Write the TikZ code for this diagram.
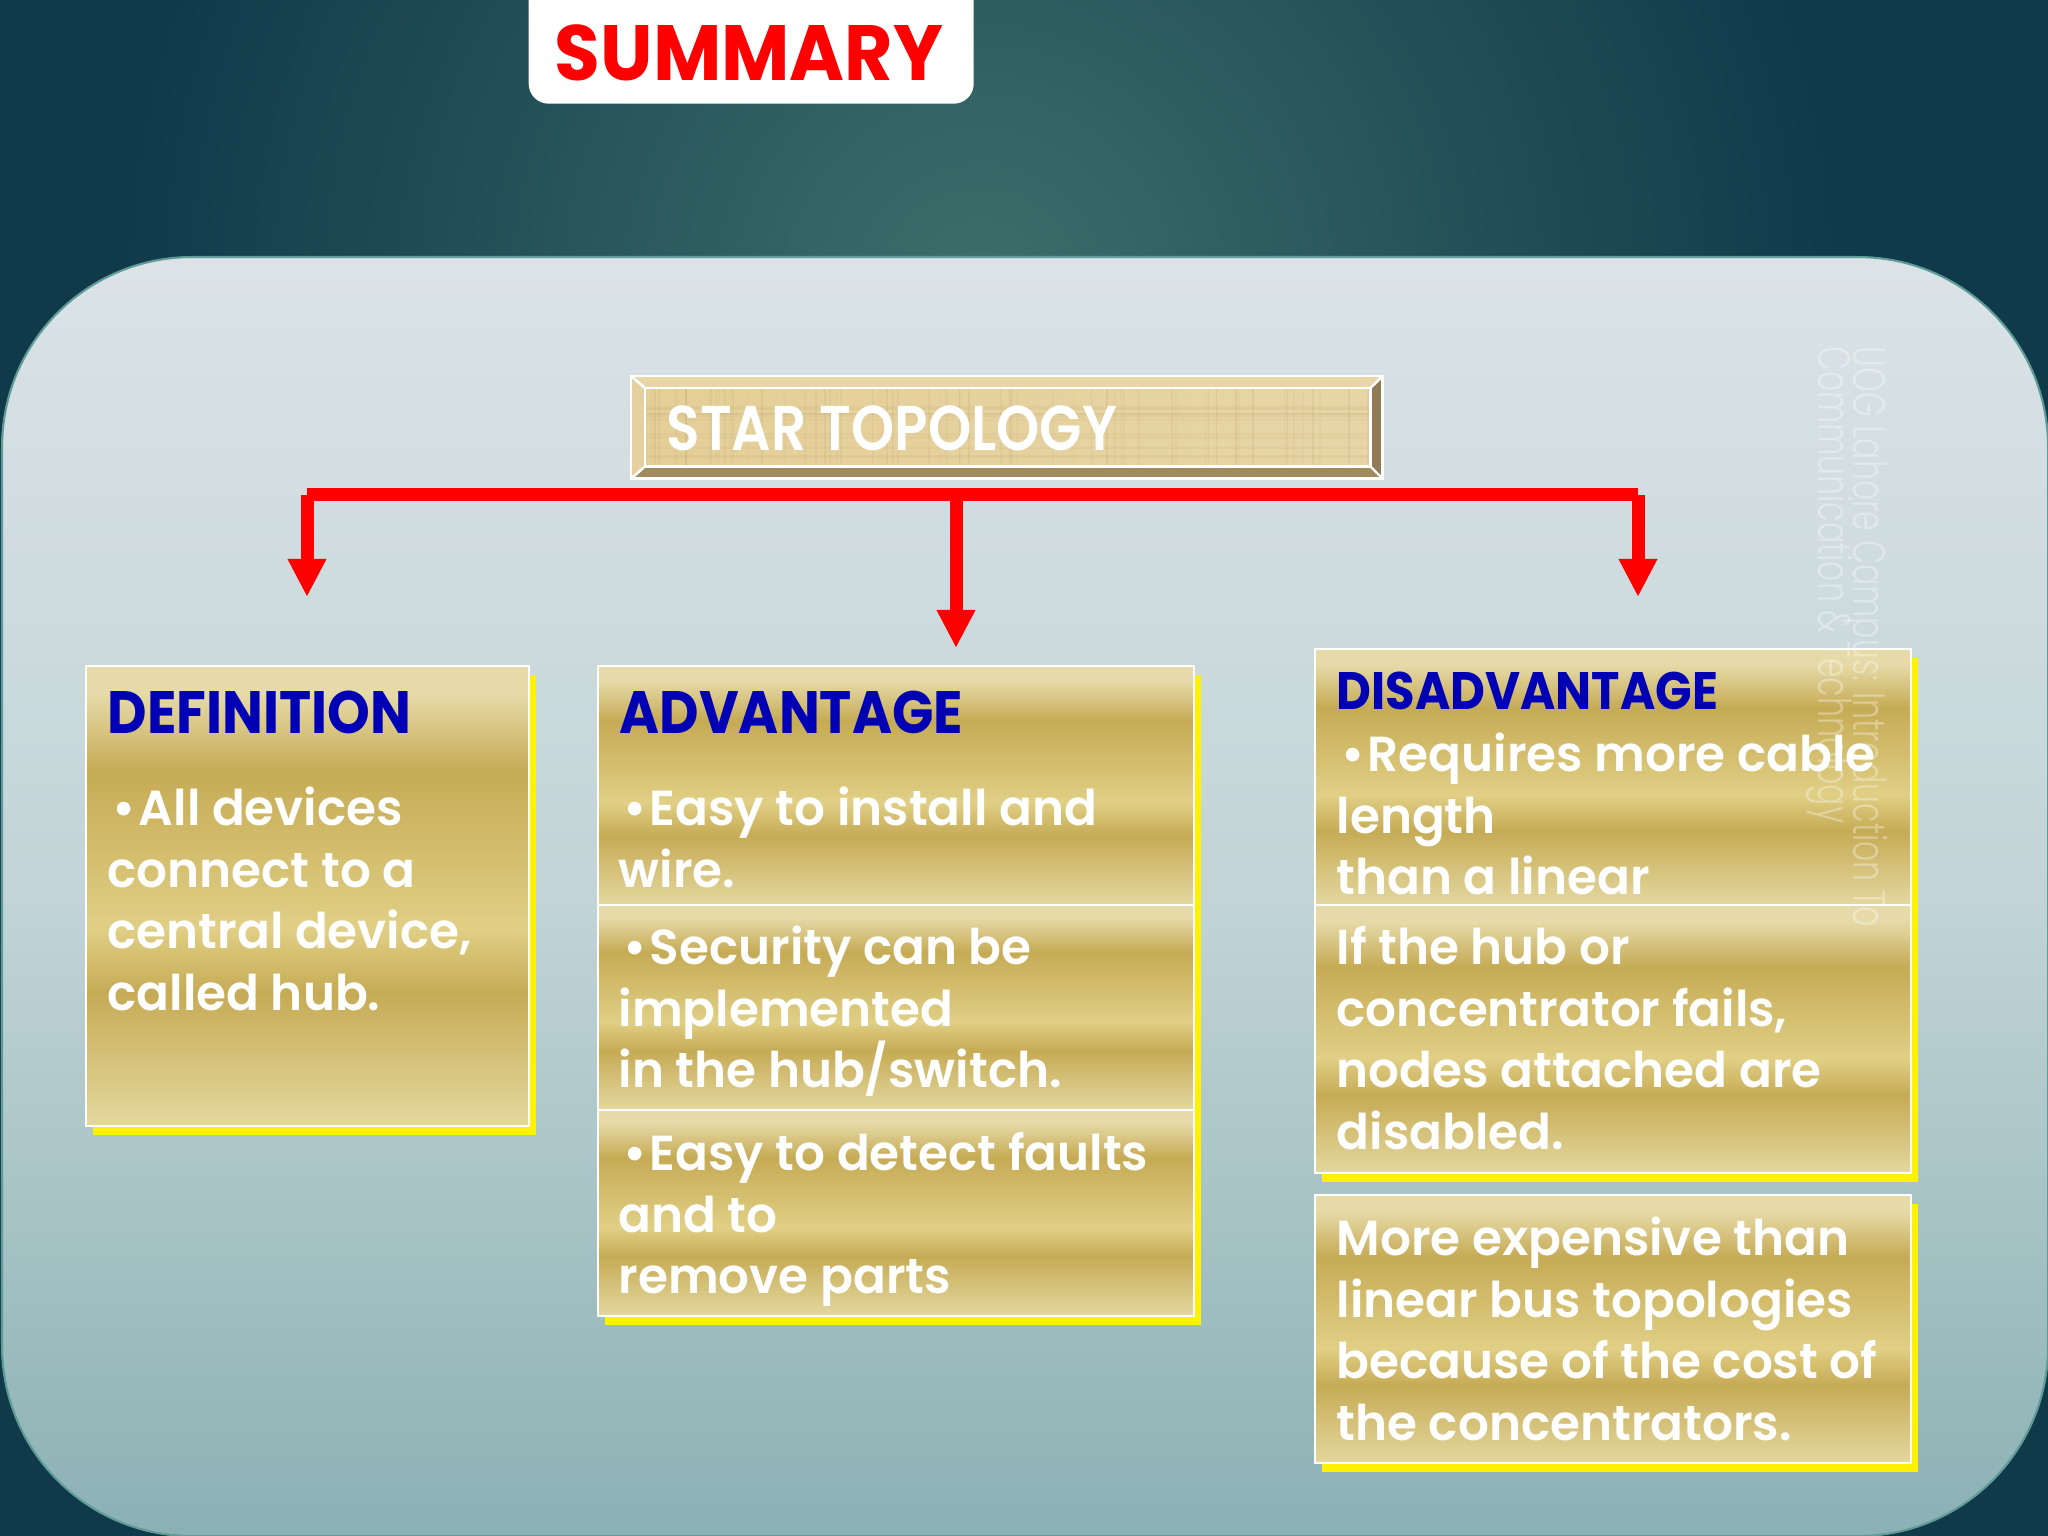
\documentclass[tikz,border=0pt]{standalone}
\usepackage{fontspec}
\usetikzlibrary{arrows.meta,shadows}
\setmainfont{Poppins}[BoldFont=Poppins SemiBold,FakeStretch=0.985]
\newfontfamily\titlefont{Poppins}[FakeStretch=0.95]
\newfontfamily\headfont{Poppins}[FakeStretch=0.91]
\newfontfamily\starfont{Poppins}[BoldFont=Poppins SemiBold,FakeStretch=0.87]
\newfontfamily\markfont{Poppins Light}[FakeStretch=0.69]
\newcommand{\bul}{\kern0.05cm•\kern0.03cm}
\definecolor{deepteal}{HTML}{10394A}
\definecolor{glowteal}{HTML}{3D6F6B}
\definecolor{goldpale}{HTML}{E6DAA8}
\definecolor{goldlow}{HTML}{E4D89F}
\definecolor{golddark}{HTML}{C6AB55}
\definecolor{goldmid}{HTML}{E0CF85}
\definecolor{headblue}{HTML}{0000B4}
\definecolor{panelTop}{HTML}{DBE3E7}
\definecolor{panelMid}{HTML}{C2D4D7}
\definecolor{panelBot}{HTML}{8BB1B4}
\definecolor{panelRim}{HTML}{5F9C98}
\definecolor{bevtop}{HTML}{E8D6A6}
\definecolor{bevleft}{HTML}{E6D0A0}
\definecolor{bevbot}{HTML}{A08B5E}
\definecolor{bevright}{HTML}{8F7B55}
\definecolor{woodleft}{HTML}{E5CF98}
\definecolor{woodright}{HTML}{E7D5A6}
\definecolor{woodgrain}{HTML}{B39A62}
\pgfdeclareverticalshading{goldband}{100bp}{color(0bp)=(goldlow); color(25bp)=(goldlow); color(39.5bp)=(golddark); color(46.5bp)=(goldmid); color(63.5bp)=(golddark); color(72bp)=(goldpale); color(100bp)=(goldpale)}
\tikzset{
  panelbox/.style={draw=panelRim, line width=0.6pt, rounded corners=1.9cm, top color=panelTop, bottom color=panelBot, middle color=panelMid, minimum width=20.46cm, minimum height=12.79cm, anchor=north west},
  goldbox/.style={draw=white, line width=0.6pt, shading=goldband, anchor=north west, inner sep=0pt, general shadow={fill=yellow, shadow xshift=0.07cm, shadow yshift=-0.09cm}},
  bodytext/.style={anchor=north west, inner sep=0pt, align=left, text=white, font=\fontsize{14}{17.5}\selectfont\bfseries},
  headtext/.style={anchor=north west, inner sep=0pt, text=headblue, font=\headfont\fontsize{17}{21}\selectfont\bfseries},
  redline/.style={draw=red, line width=0.13cm},
  redarrow/.style={redline, -{Triangle[width=0.36cm,length=0.38cm]}},
  marktext/.style={rotate=-90, anchor=north west, inner sep=0pt, text=white, opacity=0.34, font=\markfont\fontsize{13}{13}\selectfont},
}
\begin{document}
\begin{tikzpicture}[y=-1cm]
\useasboundingbox (0,0) rectangle (20.48,15.36);
% backdrop
\fill[deepteal] (0,0) rectangle (20.48,15.36);
\begin{scope}
\clip (0,0) rectangle (20.48,15.36);
\shade[inner color=glowteal, outer color=deepteal] (9.8,2.9) circle (8.6);
\end{scope}
\node[panelbox] (panel) at (0.01,2.56) {};
% title
\node[fill=white, rounded corners=0.2cm, minimum width=4.45cm, minimum height=1.3cm, anchor=north west, inner sep=0pt] (titlebox) at (5.28,-0.27) {};
\node[text=red, inner sep=0pt, anchor=base, font=\titlefont\fontsize{22.3}{27}\selectfont\bfseries] (title) at (7.49,0.81) {SUMMARY};
% star topology plate
\node[fill=goldpale, draw=white, line width=0.8pt, minimum width=7.49cm, minimum height=1.00cm, inner sep=0pt, anchor=north west] (star) at (6.31,3.76) {};
\node[fill=none, minimum width=7.24cm, minimum height=0.77cm, inner sep=0pt, anchor=north west] (starface) at (6.45,3.88) {};
\fill[bevtop] (star.north west) -- (star.north east) -- (starface.north east) -- (starface.north west) -- cycle;
\fill[bevleft] (star.north west) -- (star.south west) -- (starface.south west) -- (starface.north west) -- cycle;
\fill[bevbot] (star.south west) -- (star.south east) -- (starface.south east) -- (starface.south west) -- cycle;
\fill[bevright] (star.north east) -- (star.south east) -- (starface.south east) -- (starface.north east) -- cycle;
\shade[left color=woodleft, right color=woodright] (starface.north west) rectangle (starface.south east);
% grain of the plate
\begin{scope}
\clip (starface.north west) rectangle (starface.south east);
\pgfmathsetseed{7}
\foreach \k in {1,...,70}{
  \pgfmathsetmacro{\gx}{6.31+7.49*rnd}
  \pgfmathsetmacro{\gop}{0.04+0.14*rnd}
  \draw[woodgrain, opacity=\gop, line width=0.5pt] (\gx,3.76) -- (\gx,4.77);
}
\foreach \k in {1,...,14}{
  \pgfmathsetmacro{\gy}{3.76+1.01*rnd}
  \pgfmathsetmacro{\gop}{0.04+0.10*rnd}
  \draw[woodgrain, opacity=\gop, line width=0.6pt] (6.31,\gy) -- (13.80,\gy);
}
\end{scope}
\draw[white, line width=0.8pt] (starface.north west) rectangle (starface.south east);
\draw[white, line width=0.7pt] (star.north west) -- (starface.north west) (star.north east) -- (starface.north east) (star.south west) -- (starface.south west) (star.south east) -- (starface.south east);
\draw[white, line width=0.8pt] (star.north west) rectangle (star.south east);
\node[anchor=west, inner sep=0pt, text=white, font=\starfont\fontsize{18}{22}\selectfont\bfseries] (startext) at (6.66,4.28) {STAR TOPOLOGY};
% red connectors
\coordinate (barleft) at (3.07,4.95);
\coordinate (barmid) at (9.56,4.95);
\coordinate (barright) at (16.38,4.95);
\coordinate (tipdef) at (3.07,5.97);
\coordinate (tipadv) at (9.56,6.48);
\coordinate (tipdis) at (16.38,5.97);
\draw[redline] (barleft) -- (barright);
\draw[redarrow] (barleft) -- (tipdef);
\draw[redarrow] (barmid) -- (tipadv);
\draw[redarrow] (barright) -- (tipdis);
% definition column
\node[goldbox, minimum width=4.43cm, minimum height=4.60cm] (defbox) at (0.85,6.65) {};
\node[headtext] (defhead) at (1.07,6.81) {\strut DEFINITION};
\node[bodytext] (defbody) at (1.07,7.82) {\strut\bul All devices\\connect to a\\central device,\\called hub.};
% advantage column
\node[goldbox, minimum width=5.96cm, minimum height=2.39cm] (advone) at (5.97,6.65) {};
\node[goldbox, minimum width=5.96cm, minimum height=2.05cm] (advtwo) at (5.97,9.04) {};
\node[goldbox, minimum width=5.96cm, minimum height=2.06cm] (advthree) at (5.97,11.09) {};
\node[headtext] (advhead) at (6.19,6.81) {\strut ADVANTAGE};
\node[bodytext] (advbodyone) at (6.18,7.82) {\strut\bul Easy to install and\\wire.};
\node[bodytext] (advbodytwo) at (6.18,9.21) {\strut\bul Security can be\\implemented\\in the hub/switch.};
\node[bodytext] (advbodythree) at (6.18,11.27) {\strut\bul Easy to detect faults\\and to\\remove parts};
% disadvantage column
\node[goldbox, minimum width=5.96cm, minimum height=2.56cm] (disone) at (13.14,6.48) {};
\node[goldbox, minimum width=5.96cm, minimum height=2.68cm] (distwo) at (13.14,9.04) {};
\node[goldbox, minimum width=5.96cm, minimum height=2.68cm] (disthree) at (13.14,11.94) {};
\node[headtext, font=\headfont\fontsize{15}{18}\selectfont\bfseries] (dishead) at (13.36,6.65) {\strut DISADVANTAGE};
\node[bodytext] (disbodyone) at (13.36,7.28) {\strut\bul Requires more cable\\length\\than a linear};
\node[bodytext] (disbodytwo) at (13.36,9.21) {\strut If the hub or\\concentrator fails,\\nodes attached are\\disabled.};
\node[bodytext] (disbodythree) at (13.36,12.12) {\strut More expensive than\\linear bus topologies\\because of the cost of\\the concentrators.};
% watermark
\node[marktext] (markone) at (18.89,3.46) {UOG Lahore Campus: Introduction To};
\node[marktext] (marktwo) at (18.54,3.46) {Communication \& Technology};
\end{tikzpicture}
\end{document}
